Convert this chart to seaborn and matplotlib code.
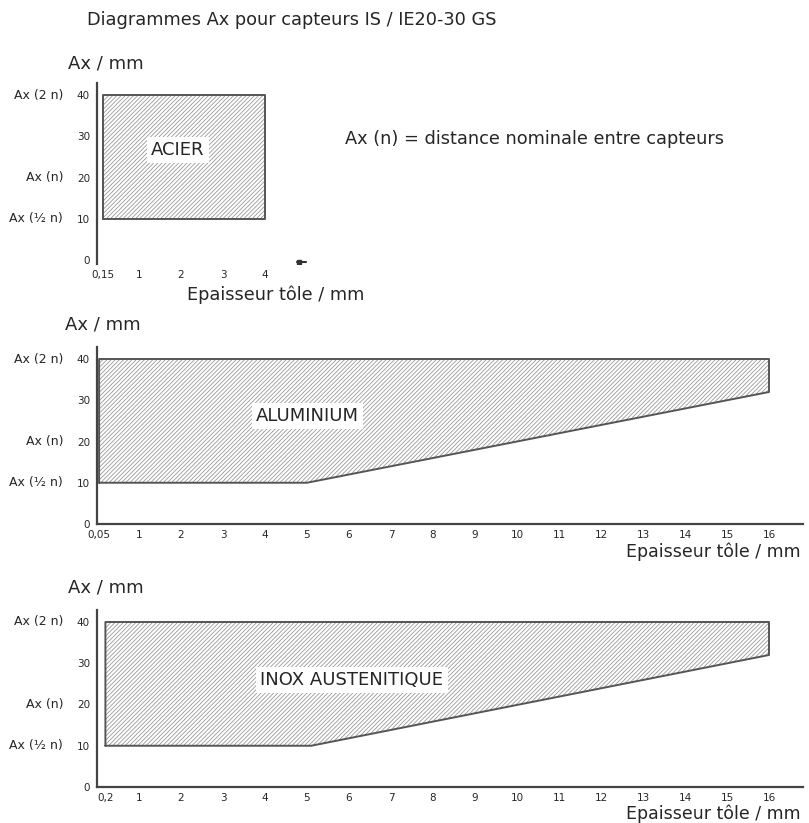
import matplotlib
matplotlib.use("Agg")
import matplotlib.pyplot as plt
import matplotlib.transforms as mtransforms
import seaborn as sns

# Data
title = "Diagrammes Ax pour capteurs IS / IE20-30 GS"
note = "Ax (n) = distance nominale entre capteurs"
x_title = "Epaisseur tôle / mm"
y_title = "Ax / mm"

y_ticks = [0, 10, 20, 30, 40]
ref_labels = ["Ax (½ n)", "Ax (n)", "Ax (2 n)"]
ref_values = [10, 20, 40]

acier_x = [0.15, 4, 4, 0.15, 0.15]
acier_y = [10, 10, 40, 40, 10]
acier_ticks = [0.15, 1, 2, 3, 4]
acier_ticklabels = ["0,15", "1", "2", "3", "4"]

alu_x = [0.05, 5, 16, 16, 0.05, 0.05]
alu_y = [10, 10, 32, 40, 40, 10]
alu_ticks = [0.05] + list(range(1, 17))
alu_ticklabels = ["0,05"] + [str(i) for i in range(1, 17)]

inox_x = [0.2, 5.1, 16, 16, 0.2, 0.2]
inox_y = [10, 10, 32, 40, 40, 10]
inox_ticks = [0.2] + list(range(1, 17))
inox_ticklabels = ["0,2"] + [str(i) for i in range(1, 17)]

W, H = 809, 823
sns.set_style("white")
plt.rcParams["font.family"] = ["DejaVu Sans"]
plt.rcParams["hatch.linewidth"] = 0.6

fig = plt.figure(figsize=(W / 100, H / 100), dpi=100)

PX_X, PX_Y = 42.0, 4.125   # pixels per data unit
X0 = 97                    # pixel column of x = 0


def make_ax(y_zero, xlim, ylim):
    left = X0 + xlim[0] * PX_X
    width = (xlim[1] - xlim[0]) * PX_X
    bottom_px = y_zero - ylim[0] * PX_Y
    height = (ylim[1] - ylim[0]) * PX_Y
    ax = fig.add_axes([left / W, 1 - bottom_px / H, width / W, height / H])
    ax.set_xlim(*xlim)
    ax.set_ylim(*ylim)
    return ax


def draw_panel(ax, xs, ys, ticks, ticklabels, name, name_pos, show_bottom=True):
    ax.fill(xs, ys, facecolor="white", edgecolor="#999999", hatch="////////", linewidth=0)
    sns.lineplot(x=xs, y=ys, sort=False, estimator=None, color="#555555", lw=1.4, ax=ax)
    ax.text(name_pos[0], name_pos[1], name, ha="center", va="center", fontsize=13,
            bbox=dict(facecolor="white", edgecolor="none", pad=3))
    sns.despine(ax=ax)
    ax.spines["left"].set_color("#444444")
    ax.spines["left"].set_linewidth(1.6)
    ax.spines["bottom"].set_color("#444444")
    ax.spines["bottom"].set_linewidth(1.6)
    ax.spines["bottom"].set_visible(show_bottom)
    ax.set_yticks(y_ticks)
    ax.set_yticklabels([str(v) for v in y_ticks])
    ax.set_xticks(ticks)
    ax.set_xticklabels(ticklabels)
    ax.tick_params(axis="both", labelsize=7.5, length=3, width=1, color="#444444", pad=1)
    ax.tick_params(axis="y", length=4, pad=1)
    ax.patch.set_alpha(0)
    trans = mtransforms.blended_transform_factory(fig.transFigure, ax.transData)
    for lab, val in zip(ref_labels, ref_values):
        ax.text(63 / W, val, lab, transform=trans, ha="right", va="center", fontsize=9)


def ftext(x, y, s, **kw):
    fig.text(x / W, 1 - y / H, s, va="center", **kw)


# Acier
ax1 = make_ax(260, (0, 5), (-1, 43))
draw_panel(ax1, acier_x, acier_y, acier_ticks, acier_ticklabels, "ACIER", (1.93, 26.7),
           show_bottom=False)
ax1.plot([4.75, 4.98], [-0.5, -0.5], color="#333333", lw=1.5)
ax1.plot([4.8], [-0.5], marker="s", ms=3.5, color="#333333")

# Aluminium
ax2 = make_ax(524, (0, 16.8), (0, 43))
draw_panel(ax2, alu_x, alu_y, alu_ticks, alu_ticklabels, "ALUMINIUM", (5.02, 26.2))

# Inox
ax3 = make_ax(787, (0, 16.8), (0, 43))
draw_panel(ax3, inox_x, inox_y, inox_ticks, inox_ticklabels, "INOX AUSTENITIQUE", (6.07, 26))

ftext(87, 20, title, fontsize=12.8)
ftext(345, 139, note, fontsize=12.8)
ftext(68, 63, y_title, fontsize=13)
ftext(65, 325, y_title, fontsize=13)
ftext(68, 587, y_title, fontsize=13)
ftext(187, 295, x_title, fontsize=12.8)
ftext(801, 552, x_title, fontsize=12.5, ha="right")
ftext(801, 814, x_title, fontsize=12.5, ha="right")

fig.savefig("out.png", dpi=100)
